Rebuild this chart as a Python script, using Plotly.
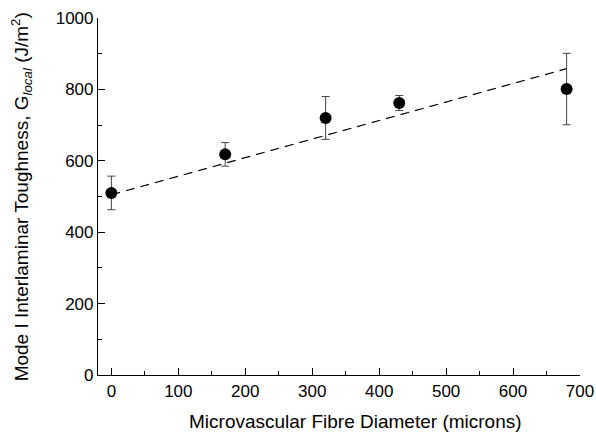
import plotly.graph_objects as go

# measured points
diameter = [0, 170, 320, 430, 680]
toughness = [510, 618, 720, 762, 801]
toughness_err = [47, 33, 60, 21, 100]

# dashed trend line (end points)
fit_x = [0, 680]
fit_y = [505, 858]

FONT = "Liberation Sans, Arial, sans-serif"

fig = go.Figure()
fig.add_trace(
    go.Scatter(
        x=fit_x,
        y=fit_y,
        mode="lines",
        line={"color": "black", "width": 1.2, "dash": "9px,6px"},
        hoverinfo="skip",
    )
)
fig.add_trace(
    go.Scatter(
        x=diameter,
        y=toughness,
        mode="markers",
        marker={"color": "black", "size": 12},
        error_y={"type": "data", "array": toughness_err, "color": "#444444", "thickness": 1, "width": 4},
    )
)

axis_common = {
    "showgrid": False,
    "zeroline": False,
    "showline": True,
    "automargin": False,
    "linecolor": "black",
    "linewidth": 1.2,
    "ticks": "inside",
    "ticklen": 7,
    "tickwidth": 1.2,
    "tickcolor": "black",
    "tickfont": {"family": FONT, "size": 17, "color": "black"},
}
minor_common = {"ticks": "inside", "ticklen": 4, "tickcolor": "black", "tickwidth": 1.2}

fig.update_layout(
    width=596,
    height=434,
    showlegend=False,
    plot_bgcolor="white",
    paper_bgcolor="white",
    margin={"l": 98, "r": 16, "t": 18, "b": 59},
    xaxis={
        **axis_common,
        "range": [-20, 700],
        "tickvals": [0, 100, 200, 300, 400, 500, 600, 700],
        "minor": {**minor_common, "tickvals": [50, 150, 250, 350, 450, 550, 650]},
    },
    yaxis={
        **axis_common,
        "range": [0, 1000],
        "tickvals": [0, 200, 400, 600, 800, 1000],
        "minor": {**minor_common, "tickvals": [100, 300, 500, 700, 900]},
    },
    annotations=[
        {
            "text": "Microvascular Fibre Diameter (microns)",
            "xref": "paper",
            "yref": "paper",
            "x": 0.535,
            "y": -0.129,
            "xanchor": "center",
            "yanchor": "middle",
            "showarrow": False,
            "font": {"family": FONT, "size": 19, "color": "black"},
        },
        {
            "text": "Mode I Interlaminar Toughness, G<sub><i>local</i></sub> (J/m<sup>2</sup>)",
            "xref": "paper",
            "yref": "paper",
            "x": -0.158,
            "y": 0.5,
            "textangle": -90,
            "xanchor": "center",
            "yanchor": "middle",
            "showarrow": False,
            "font": {"family": FONT, "size": 19, "color": "black"},
        },
    ],
)

# drop the default body margin so the figure fills the window exactly
fig.write_html(
    "out.html",
    config={"displayModeBar": False},
    post_script="document.body.style.margin='0';document.body.style.overflow='hidden';",
)
